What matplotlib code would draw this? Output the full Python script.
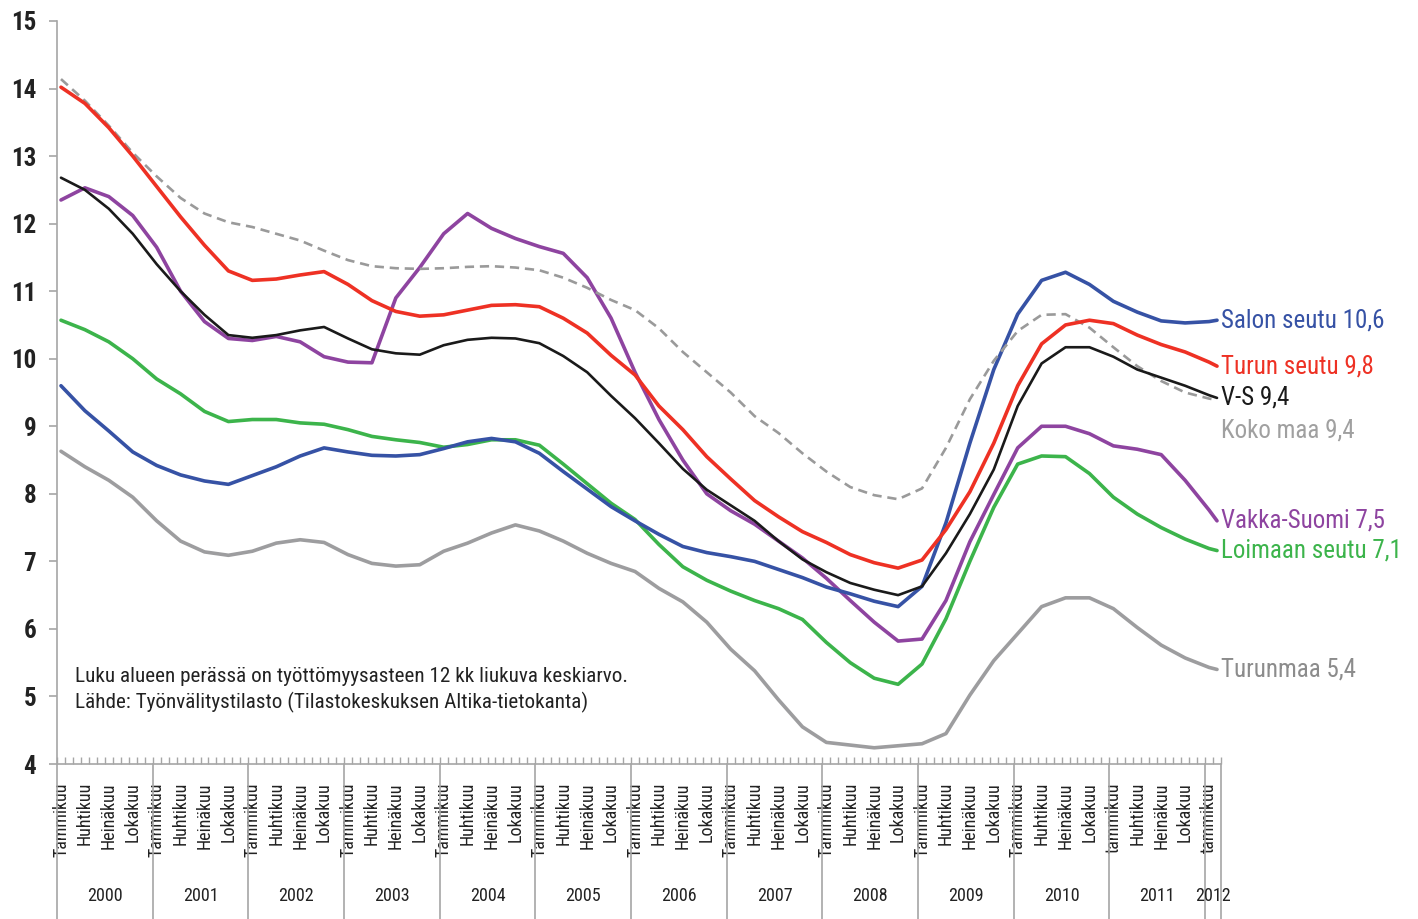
import matplotlib
matplotlib.use("Agg")
import matplotlib.pyplot as plt
from matplotlib import font_manager
import numpy as np

# pick a condensed font if one is installed
font_name = "Liberation Sans"
for cand in ["Liberation Sans Narrow", "Roboto Condensed", "Open Sans Condensed"]:
    try:
        font_manager.findfont(cand, fallback_to_default=False)
        font_name = cand
        break
    except ValueError:
        pass
plt.rcParams['font.family'] = [font_name, 'DejaVu Sans']

# month index (0 = Tammikuu 2000), read every third month, last point = helmikuu 2012
sample_month = list(range(0, 145, 3)) + [145]

salon = [9.60, 9.23, 8.93, 8.62, 8.42, 8.28, 8.19, 8.14, 8.27, 8.40,
         8.56, 8.68, 8.62, 8.57, 8.56, 8.58, 8.67, 8.77, 8.82, 8.77,
         8.60, 8.33, 8.07, 7.81, 7.60, 7.40, 7.22, 7.13, 7.07, 7.00,
         6.88, 6.76, 6.62, 6.52, 6.41, 6.33, 6.63, 7.57, 8.75, 9.84,
         10.66, 11.16, 11.28, 11.10, 10.85, 10.69, 10.56, 10.53, 10.55, 10.57]
turun = [14.02, 13.78, 13.42, 13.00, 12.55, 12.10, 11.68, 11.30, 11.16, 11.18,
         11.24, 11.29, 11.10, 10.86, 10.70, 10.63, 10.65, 10.72, 10.79, 10.80,
         10.77, 10.60, 10.38, 10.05, 9.76, 9.30, 8.95, 8.55, 8.22, 7.90,
         7.66, 7.44, 7.28, 7.10, 6.98, 6.90, 7.02, 7.47, 8.03, 8.75,
         9.60, 10.22, 10.50, 10.57, 10.52, 10.35, 10.21, 10.10, 9.95, 9.89]
vs = [12.68, 12.50, 12.22, 11.85, 11.40, 11.00, 10.65, 10.35, 10.31, 10.35,
      10.42, 10.47, 10.30, 10.14, 10.08, 10.06, 10.20, 10.28, 10.31, 10.30,
      10.23, 10.04, 9.80, 9.45, 9.12, 8.75, 8.37, 8.06, 7.83, 7.60,
      7.30, 7.03, 6.84, 6.68, 6.58, 6.50, 6.63, 7.12, 7.70, 8.36,
      9.30, 9.93, 10.17, 10.17, 10.03, 9.84, 9.72, 9.60, 9.46, 9.42]
koko_maa = [14.14, 13.82, 13.45, 13.05, 12.70, 12.38, 12.15, 12.02, 11.95, 11.85,
            11.75, 11.60, 11.46, 11.37, 11.34, 11.33, 11.34, 11.36, 11.37, 11.35,
            11.31, 11.20, 11.05, 10.87, 10.72, 10.45, 10.10, 9.80, 9.50, 9.15,
            8.90, 8.60, 8.33, 8.10, 7.98, 7.92, 8.08, 8.68, 9.40, 9.97,
            10.41, 10.65, 10.66, 10.46, 10.17, 9.89, 9.67, 9.50, 9.41, 9.39]
vakka = [12.35, 12.53, 12.40, 12.12, 11.65, 11.00, 10.55, 10.30, 10.27, 10.33,
         10.25, 10.03, 9.95, 9.94, 10.90, 11.35, 11.85, 12.15, 11.93, 11.78,
         11.66, 11.56, 11.20, 10.60, 9.80, 9.10, 8.50, 8.00, 7.75, 7.55,
         7.30, 7.05, 6.75, 6.42, 6.10, 5.82, 5.85, 6.42, 7.29, 7.99,
         8.68, 9.00, 9.00, 8.89, 8.71, 8.66, 8.58, 8.20, 7.76, 7.60]
loimaa = [10.57, 10.43, 10.25, 10.00, 9.70, 9.48, 9.22, 9.07, 9.10, 9.10,
          9.05, 9.03, 8.95, 8.85, 8.80, 8.76, 8.69, 8.73, 8.80, 8.80,
          8.72, 8.44, 8.15, 7.86, 7.62, 7.25, 6.92, 6.72, 6.56, 6.42,
          6.30, 6.14, 5.80, 5.50, 5.27, 5.18, 5.48, 6.15, 7.00, 7.80,
          8.44, 8.56, 8.55, 8.30, 7.95, 7.70, 7.50, 7.33, 7.19, 7.16]
turunmaa = [8.63, 8.40, 8.20, 7.95, 7.60, 7.30, 7.14, 7.09, 7.15, 7.27,
            7.32, 7.28, 7.10, 6.97, 6.93, 6.95, 7.15, 7.27, 7.42, 7.54,
            7.45, 7.30, 7.12, 6.97, 6.85, 6.60, 6.40, 6.10, 5.70, 5.38,
            4.95, 4.55, 4.32, 4.28, 4.24, 4.27, 4.30, 4.45, 5.02, 5.53,
            5.93, 6.33, 6.46, 6.46, 6.30, 6.02, 5.76, 5.57, 5.43, 5.40]

end_labels = ["Salon seutu 10,6", "Turun seutu 9,8", "V-S 9,4", "Koko maa 9,4",
              "Vakka-Suomi 7,5", "Loimaan seutu 7,1", "Turunmaa 5,4"]

years = [str(y) for y in range(2000, 2013)]
month_names = ["Tammikuu", "Huhtikuu", "Heinäkuu", "Lokakuu"]
n_months = 146

# series: (values, colour, width, style, label, label colour, label y-offset px)
series = [
    (turunmaa, "#9d9d9f", 2.6, "-", end_labels[6], "#8c8c8c", 0),
    (loimaa, "#3cb44b", 2.6, "-", end_labels[5], "#3cb44b", 0),
    (vakka, "#8e44a0", 2.6, "-", end_labels[4], "#8e44a0", 0),
    (salon, "#3652a5", 2.6, "-", end_labels[0], "#3652a5", 0),
    (koko_maa, "#9a9a9a", 1.9, (0, (3.5, 2.2)), end_labels[3], "#a0a0a0", -31),
    (turun, "#ee3124", 2.6, "-", end_labels[1], "#ee3124", 0),
    (vs, "#1a1a1a", 1.9, "-", end_labels[2], "#1a1a1a", 0),
]

fig = plt.figure(figsize=(14.18, 9.19), dpi=100)
ax = fig.add_axes([57 / 1418, 1 - 764 / 919, 1164 / 1418, 743 / 919])

for vals, col, lw, ls, lab, lcol, dy in series:
    ax.plot(sample_month, vals, color=col, lw=lw, ls=ls,
            solid_joinstyle="round", solid_capstyle="round", zorder=3)
    ax.annotate(lab, xy=(sample_month[-1], vals[-1]), xytext=(3, dy * 0.72),
                textcoords="offset points", va="center", ha="left",
                fontsize=18, color=lcol, annotation_clip=False)

ax.set_xlim(-0.5, n_months - 0.5)
ax.set_ylim(4, 15)

for s in ["top", "right"]:
    ax.spines[s].set_visible(False)
for s in ["left", "bottom"]:
    ax.spines[s].set_color("#a6a6a6")
    ax.spines[s].set_linewidth(1.2)

# y axis
ax.set_yticks(range(4, 16))
ax.tick_params(axis="y", direction="out", length=6, width=1.2, color="#a6a6a6",
               pad=9, labelsize=18)
for t in ax.get_yticklabels():
    t.set_fontweight("bold")
    t.set_color("#222222")

# x axis: quarterly labels, month tick marks inside
tick_pos = list(range(0, 144, 3)) + [144]
tick_lab = []
for p in tick_pos:
    name = month_names[(p % 12) // 3]
    if p >= 132 and p % 12 == 0:
        name = name.lower()
    tick_lab.append(name)
ax.set_xticks(tick_pos)
ax.set_xticklabels(tick_lab, rotation=90, fontsize=13, color="#222222")
ax.tick_params(axis="x", length=0, pad=13)
ax.set_xticks(np.arange(n_months + 1) - 0.5, minor=True)
ax.tick_params(axis="x", which="minor", direction="in", length=5, width=1,
               color="#a6a6a6")

# year separators and year labels below the axis
trans = ax.get_xaxis_transform()
bounds = list(range(0, n_months, 12)) + [n_months]
for b in bounds:
    ax.plot([b - 0.5, b - 0.5], [0, -0.208], transform=trans, color="#a6a6a6",
            lw=1.2, clip_on=False)
for i, y in enumerate(years):
    lo = bounds[i] - 0.5
    hi = bounds[i + 1] - 0.5
    ax.text((lo + hi) / 2, -0.178, y, transform=trans, ha="center", va="center",
            fontsize=13, color="#222222")

ax.text(0.0155, 0.118, "Luku alueen perässä on työttömyysasteen 12 kk liukuva keskiarvo.",
        transform=ax.transAxes, fontsize=15.2, color="#222222", va="center")
ax.text(0.0155, 0.083, "Lähde: Työnvälitystilasto (Tilastokeskuksen Altika-tietokanta)",
        transform=ax.transAxes, fontsize=15.2, color="#222222", va="center")

fig.savefig("out.png", dpi=100)
